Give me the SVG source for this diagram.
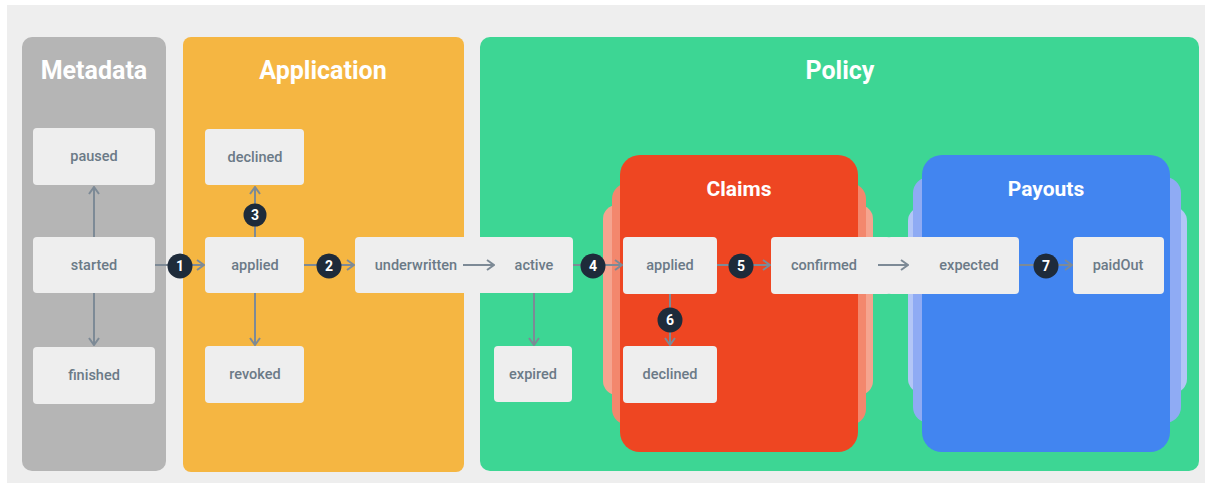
<svg xmlns="http://www.w3.org/2000/svg" width="1205" height="486" viewBox="0 0 1205 486">
  <defs>
    <marker id="chev" viewBox="0 0 10 12" markerWidth="10" markerHeight="12" refX="9" refY="6" orient="auto" markerUnits="userSpaceOnUse">
      <path d="M2,1 L9,6 L2,11" fill="none" stroke="#7d8a96" stroke-width="2"/>
    </marker>
    <style>
      .title { font-family: Roboto, "Liberation Sans", sans-serif; font-weight: 700; font-size: 25px; fill: #ffffff; text-anchor: middle; }
      .sub { font-family: Roboto, "Liberation Sans", sans-serif; font-weight: 700; font-size: 21px; fill: #ffffff; text-anchor: middle; }
      .box { fill: #eeeeee; }
      .lbl { font-family: Roboto, "Liberation Sans", sans-serif; font-weight: 500; font-size: 14.5px; fill: #6b7a87; text-anchor: middle; }
      .edge { stroke: #7d8a96; stroke-width: 2; fill: none; marker-end: url(#chev); }
      .badge circle { fill: #1e2b3a; }
      .badge text { font-family: Roboto, "Liberation Sans", sans-serif; font-weight: 700; font-size: 14px; fill: #ffffff; text-anchor: middle; }
    </style>
  </defs>

  <!-- canvas -->
  <rect x="0" y="0" width="1205" height="486" fill="#ffffff"/>
  <rect x="7" y="5" width="1198" height="478" fill="#eeeeee"/>

  <!-- lanes -->
  <g id="lane-metadata">
    <rect x="22" y="37" width="144" height="434" rx="10" fill="#b5b5b5"/>
    <text class="title" x="94" y="79">Metadata</text>
  </g>
  <g id="lane-application">
    <rect x="183" y="37" width="281" height="435" rx="8" fill="#f5b642"/>
    <text class="title" x="323" y="79">Application</text>
  </g>
  <g id="lane-policy">
    <rect x="480" y="37" width="719" height="434" rx="10" fill="#3dd694"/>
    <text class="title" x="840" y="79">Policy</text>
  </g>
  <g id="lane-claims">
    <rect x="603" y="205" width="270" height="190" rx="14" fill="#f5a48f"/>
    <rect x="612" y="183" width="254" height="242" rx="16" fill="#f3876d"/>
    <rect x="620" y="155" width="238" height="297" rx="20" fill="#ee4622"/>
    <text class="sub" x="739" y="196">Claims</text>
  </g>
  <g id="lane-payouts">
    <rect x="908" y="207" width="279" height="186" rx="14" fill="#b3c6f7"/>
    <rect x="913" y="177" width="268" height="246" rx="16" fill="#8fabf4"/>
    <rect x="922" y="155" width="248" height="297" rx="20" fill="#4285f0"/>
    <text class="sub" x="1046" y="196">Payouts</text>
  </g>

  <!-- states -->
  <g id="meta-paused"><rect class="box" x="33" y="128" width="122" height="57" rx="4"/><text class="lbl" x="94" y="161">paused</text></g>
  <g id="meta-started"><rect class="box" x="33" y="237" width="122" height="56" rx="4"/><text class="lbl" x="94" y="270">started</text></g>
  <g id="meta-finished"><rect class="box" x="33" y="347" width="122" height="57" rx="4"/><text class="lbl" x="94" y="380">finished</text></g>

  <g id="app-declined"><rect class="box" x="205" y="129" width="99" height="56" rx="4"/><text class="lbl" x="255" y="162">declined</text></g>
  <g id="app-applied"><rect class="box" x="205" y="237" width="99" height="56" rx="4"/><text class="lbl" x="255" y="270">applied</text></g>
  <g id="app-revoked"><rect class="box" x="205" y="346" width="99" height="57" rx="4"/><text class="lbl" x="255" y="379">revoked</text></g>

  <g id="app-underwritten"><rect class="box" x="355" y="237" width="115" height="56" rx="4"/><text class="lbl" x="416" y="270">underwritten</text></g>
  <g id="policy-active"><rect class="box" x="466" y="237" width="107" height="56" rx="4"/><text class="lbl" x="534" y="270">active</text></g>
  <g id="policy-expired"><rect class="box" x="494" y="346" width="78" height="56" rx="4"/><text class="lbl" x="533" y="379">expired</text></g>

  <g id="claims-applied"><rect class="box" x="623" y="237" width="94" height="57" rx="4"/><text class="lbl" x="670" y="270">applied</text></g>
  <g id="claims-declined"><rect class="box" x="623" y="346" width="94" height="57" rx="4"/><text class="lbl" x="670" y="379">declined</text></g>
  <g id="claims-confirmed"><rect class="box" x="771" y="237" width="120" height="57" rx="4"/><text class="lbl" x="824" y="270">confirmed</text></g>

  <g id="payouts-expected"><rect class="box" x="887" y="237" width="132" height="57" rx="4"/><text class="lbl" x="969" y="270">expected</text></g>
  <g id="payouts-paidOut"><rect class="box" x="1073" y="237" width="91" height="57" rx="4"/><text class="lbl" x="1118" y="270">paidOut</text></g>

  <!-- transitions -->
  <g id="connectors">
    <path class="edge" d="M94,237 V187"/>
    <path class="edge" d="M94,293 V345"/>
    <path class="edge" d="M155,265 H204"/>
    <path class="edge" d="M255,237 V187"/>
    <path class="edge" d="M255,293 V345"/>
    <path class="edge" d="M304,265 H354"/>
    <path class="edge" d="M463,265 H494"/>
    <path class="edge" d="M534,293 V345"/>
    <path class="edge" d="M573,265 H622"/>
    <path class="edge" d="M670,294 V345"/>
    <path class="edge" d="M717,265 H770"/>
    <path class="edge" d="M878,265 H908"/>
    <path class="edge" d="M1019,265 H1072"/>

    <g class="badge"><circle cx="180" cy="266" r="12.5"/><text x="180" y="271">1</text></g>
    <g class="badge"><circle cx="329" cy="266" r="12.5"/><text x="329" y="271">2</text></g>
    <g class="badge"><circle cx="255" cy="215" r="11.5"/><text x="255" y="220">3</text></g>
    <g class="badge"><circle cx="593" cy="266" r="12.5"/><text x="593" y="271">4</text></g>
    <g class="badge"><circle cx="741" cy="266" r="12.5"/><text x="741" y="271">5</text></g>
    <g class="badge"><circle cx="670" cy="320" r="12.5"/><text x="670" y="325">6</text></g>
    <g class="badge"><circle cx="1046" cy="266" r="12.5"/><text x="1046" y="271">7</text></g>
  </g>
</svg>
